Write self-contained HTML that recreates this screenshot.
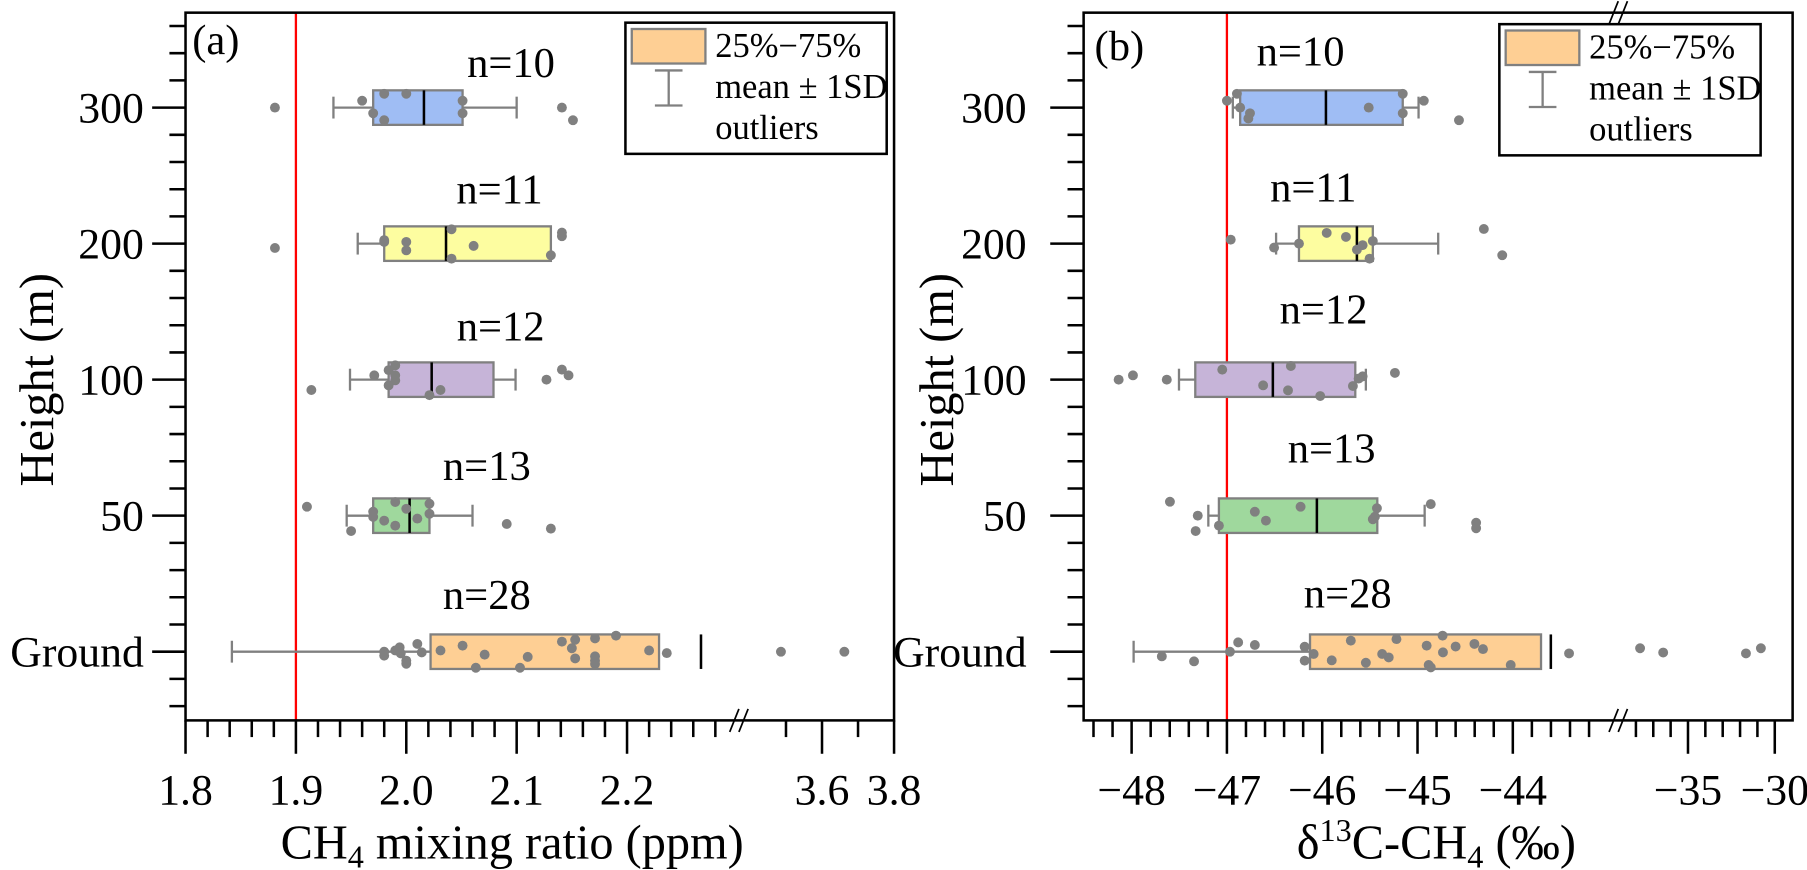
<!DOCTYPE html>
<html><head><meta charset="utf-8"><style>
html,body{margin:0;padding:0;background:#fff}
svg{display:block}
svg text{font-family:"Liberation Serif","Times New Roman","Noto Serif CJK SC","DejaVu Serif",serif;fill:#000}
</style></head><body>
<svg id="fig" xmlns="http://www.w3.org/2000/svg" width="1807" height="870" viewBox="0 0 1570 756" preserveAspectRatio="none">
<g id="pa"></g>
<g id="pb"></g>
</svg>
<script>
// ---------- shared ----------
const categories = ["300","200","100","50","Ground"];
const boxColors = ["#9fbdf4","#fdfda0","#c6b4d8","#9fd89d","#fecf94"];

// ---------- panel a data (CH4 ppm) ----------
const aQ1 = [1.970,1.980,1.984,1.970,2.022];
const aMedian = [2.016,2.036,2.023,2.003,2.267];
const aQ3 = [2.051,2.131,2.079,2.021,2.229];
const aWhiskerLo = [1.934,1.956,1.949,1.946,1.842];
const aWhiskerHi = [2.100,2.116,2.099,2.060,null];
const aN = ["n=10","n=11","n=12","n=13","n=28"];
const aPoints = [
 [1.881,1.960,1.970,1.980,1.980,2.000,2.051,2.051,2.141,2.151],
 [1.881,1.980,2.000,2.000,2.041,2.041,2.061,2.141,2.141,2.131,1.980],
 [1.914,1.971,1.984,1.990,1.990,1.990,1.984,2.021,2.031,2.127,2.141,2.147],
 [1.910,1.950,1.970,1.970,1.980,1.990,1.990,2.000,2.010,2.021,2.021,2.091,2.131],
 [1.980,1.980,1.990,1.994,2.000,2.010,2.014,2.031,2.051,2.071,2.063,2.103,2.141,2.153,2.153,2.171,2.171,2.171,2.171,2.190,2.220,2.236,3.486,3.662,1.995,2.000,2.150,2.110]
];
const aJitter = [
 [0,-0.4,0.33,-0.8,0.73,-0.8,-0.4,0.33,0,0.73],
 [0.25,-0.2,-0.1,0.39,-0.83,0.87,0.13,-0.64,-0.43,0.67,-0.1],
 [0.6,-0.25,-0.55,-0.83,-0.25,0.04,0.33,0.9,0.6,0,-0.58,-0.25,0.33],
 [-0.52,0.89,-0.23,0.07,0.29,-0.79,0.58,-0.4,0.17,-0.69,-0.11,0.48,0.75],
 [0,0.23,-0.07,-0.25,0.52,-0.45,0.04,-0.07,-0.35,0.17,0.93,0.93,-0.58,-0.69,0.39,-0.77,0.27,0.52,0.71,-0.93,-0.07,0.08,0,0,0.1,0.7,-0.2,0.3]
];
const aTickMajor = [1.8,1.9,2.0,2.1,2.2,3.6,3.8];
const aTickLabels = ["1.8","1.9","2.0","2.1","2.2","3.6","3.8"];
const aTickMinor = [1.82,1.84,1.86,1.88,1.92,1.94,1.96,1.98,2.02,2.04,2.06,2.08,2.12,2.14,2.16,2.18,2.22,2.24,2.26,2.28,3.5,3.7];
const aRef = 1.9;

// ---------- panel b data (d13C permil) ----------
const bQ1 = [-46.861,-46.244,-47.332,-47.084,-46.128];
const bMedian = [-45.961,-45.636,-46.518,-46.056,-43.601];
const bQ3 = [-45.155,-45.469,-45.653,-45.422,-43.704];
const bWhiskerLo = [-46.938,-46.484,-47.503,-47.195,-47.979];
const bWhiskerHi = [-44.989,-44.783,-45.542,-44.925,null];
const bN = ["n=10","n=11","n=12","n=13","n=28"];
const bPoints = [
 [-47.0,-46.895,-46.861,-46.758,-46.775,-45.512,-45.155,-45.155,-44.934,-44.565],
 [-46.96,-46.505,-46.244,-45.953,-45.751,-45.636,-45.576,-45.469,-45.503,-44.304,-44.111],
 [-48.136,-47.986,-47.631,-47.049,-46.620,-46.329,-46.359,-46.021,-45.678,-45.618,-45.576,-45.237],
 [-47.598,-47.306,-47.328,-47.084,-46.707,-46.591,-46.227,-45.447,-45.426,-45.469,-44.861,-44.385,-44.385],
 [-47.683,-47.345,-46.968,-46.882,-46.707,-46.184,-46.184,-46.09,-45.70,-45.542,-45.371,-45.302,-45.221,-44.904,-44.883,-44.861,-44.737,-44.733,-44.403,-44.313,-44.022,-43.41,-37.76,-36.43,-31.66,-30.8,-45.9,-44.6]
];
const bJitter = [
 [-0.4,-0.8,0,0.33,0.63,0,-0.8,0.33,-0.4,0.73],
 [-0.23,0.23,0,-0.62,-0.39,0.35,0.09,-0.15,0.87,-0.85,0.67],
 [0,-0.25,0,-0.58,0.33,-0.79,0.62,0.95,0.37,-0.06,-0.19,-0.39],
 [-0.81,0,0.89,0.58,-0.23,0.29,-0.52,0.06,-0.43,0.21,-0.67,0.41,0.73],
 [0.27,0.56,0,-0.54,-0.39,-0.29,0.52,0.13,-0.64,0.64,0.13,0.33,-0.73,-0.35,0.77,0.91,-0.93,0.04,-0.45,-0.15,0.77,0.1,-0.2,0.05,0.1,-0.2,0.5,-0.3]
];
const bTickMajor = [-48,-47,-46,-45,-44,-35,-30];
const bTickLabels = ["\u221248","\u221247","\u221246","\u221245","\u221244","\u221235","\u221230"];
const bTickMinor = [-48.4,-48.2,-47.8,-47.6,-47.4,-47.2,-46.8,-46.6,-46.4,-46.2,-45.8,-45.6,-45.4,-45.2,-44.8,-44.6,-44.4,-44.2,-43.8,-43.6,-43.4,-43.2,-38,-37,-36,-34,-33,-32,-31];
const bRef = -47;

// ---------- helpers ----------
const NS = "http://www.w3.org/2000/svg";
function mk(parent, tag, attrs, txt){
  const e = document.createElementNS(NS, tag);
  for (const k in attrs) e.setAttribute(k, attrs[k]);
  if (txt !== undefined) e.textContent = txt;
  parent.appendChild(e);
  return e;
}
const FT = 11, FB = 626, HALF = 15;
function yCat(i){ return 93.5 + i*118.2; }
function xA(v){ return v <= 2.3 ? 161.2 + (v-1.8)*959 : 714.2 + (v-3.6)*313; }
function xB(v){ return v <= -43.0 ? 1066 + (v+47)*82.8 : 1542 + (v+30)*15.08; }

function drawPanel(g, cfg){
  const L = cfg.left, R = cfg.right, X = cfg.x;
  for (let k=-3;k<=22;k++){
    const y = 93.5 + k*23.64;
    const major = (k%5===0);
    const t = mk(g,'line',{x1:L-(major?29:14),x2:L,y1:y,y2:y,stroke:'#000','stroke-width':2.2});
    
    
  }
  categories.forEach((c,i)=>{
    const t = mk(g,'text',{x:cfg.ylabX,y:yCat(i)+13,'font-size':38,'text-anchor':'end'},c);
    
    
  });
  cfg.minor.forEach(v=>{
    const t = mk(g,'line',{x1:X(v),x2:X(v),y1:FB,y2:FB+14.5,stroke:'#000','stroke-width':2.2});
    
    
  });
  cfg.major.forEach((v,i)=>{
    const t = mk(g,'line',{x1:X(v),x2:X(v),y1:FB,y2:FB+29,stroke:'#000','stroke-width':2.2});
    
    
    const l = mk(g,'text',{x:X(v),y:FB+73,'font-size':38,'text-anchor':'middle'},cfg.labels[i]);
    
    
  });
  const rl = mk(g,'line',{x1:X(cfg.ref),x2:X(cfg.ref),y1:FT,y2:FB,stroke:'#ff0000','stroke-width':2});
  
  
  categories.forEach((c,i)=>{
    const y = yCat(i);
    const grp = mk(g,'g',{});
    
    
    const lo = cfg.wlo[i], hi = cfg.whi[i];
    mk(grp,'line',{x1:X(lo),x2:X(cfg.q1[i]),y1:y,y2:y,stroke:'#808080','stroke-width':2});
    mk(grp,'line',{x1:X(lo),x2:X(lo),y1:y-9.5,y2:y+9.5,stroke:'#808080','stroke-width':2});
    if (hi !== null){
      mk(grp,'line',{x1:X(cfg.q3[i]),x2:X(hi),y1:y,y2:y,stroke:'#808080','stroke-width':2});
      mk(grp,'line',{x1:X(hi),x2:X(hi),y1:y-9.5,y2:y+9.5,stroke:'#808080','stroke-width':2});
    }
    const r = mk(grp,'rect',{x:X(cfg.q1[i]),y:y-HALF,width:X(cfg.q3[i])-X(cfg.q1[i]),height:2*HALF,fill:boxColors[i],stroke:'#808080','stroke-width':2});
    
    
    const m = mk(grp,'line',{x1:X(cfg.med[i]),x2:X(cfg.med[i]),y1:y-HALF,y2:y+HALF,stroke:'#000','stroke-width':2.2});
    
    
    cfg.pts[i].forEach((v,j)=>{
      const p = mk(grp,'circle',{cx:X(v),cy:y+cfg.jit[i][j]*HALF,r:4.3,fill:'#808080'});
      
      
    });
  });
  cfg.nPos.forEach((p,i)=>{
    const t = mk(g,'text',{x:p[0],y:p[1],'font-size':37,'text-anchor':'middle'},cfg.n[i]);
    
    
  });
  const f = mk(g,'rect',{x:L,y:FT,width:R-L,height:FB-FT,fill:'none',stroke:'#000','stroke-width':2.2});
  
  
  cfg.breaks.forEach(b=>{
    const bg = mk(g,'g',{});
    
    
    mk(bg,'line',{x1:b[0]-7,x2:b[0]+1,y1:b[1]+10,y2:b[1]-10,stroke:'#000','stroke-width':1.5});
    mk(bg,'line',{x1:b[0]+1,x2:b[0]+9,y1:b[1]+10,y2:b[1]-10,stroke:'#000','stroke-width':1.5});
  });
  const pl = mk(g,'text',{x:cfg.letter[0],y:cfg.letter[1],'font-size':37},cfg.letter[2]);
  
  
  const lx = cfg.legend[0], ly = cfg.legend[1];
  const lg = mk(g,'g',{});
  
  
  mk(lg,'rect',{x:lx,y:ly,width:227,height:114,fill:'#fff',stroke:'#000','stroke-width':2.2});
  const sw = mk(lg,'rect',{x:lx+5.5,y:ly+5.5,width:64,height:30,fill:'#fecf94',stroke:'#808080','stroke-width':2});
  
  
  const eb = mk(lg,'g',{});
  
  
  mk(eb,'line',{x1:lx+37.6,x2:lx+37.6,y1:ly+41.5,y2:ly+72,stroke:'#808080','stroke-width':2});
  mk(eb,'line',{x1:lx+25.6,x2:lx+49.6,y1:ly+41.5,y2:ly+41.5,stroke:'#808080','stroke-width':2});
  mk(eb,'line',{x1:lx+25.6,x2:lx+49.6,y1:ly+72,y2:ly+72,stroke:'#808080','stroke-width':2});
  ["25%\u221275%","mean \u00b1 1SD","outliers"].forEach((s,i)=>{
    const t = mk(lg,'text',{x:lx+78,y:ly+30+i*35.5,'font-size':30},s);
    
    
  });
}

const ga = document.getElementById('pa');
drawPanel(ga,{left:161.2,right:776.8,x:xA,ylabX:125,
  minor:aTickMinor,major:aTickMajor,labels:aTickLabels,ref:aRef,
  q1:aQ1,med:aMedian,q3:aQ3,wlo:aWhiskerLo,whi:aWhiskerHi,pts:aPoints,jit:aJitter,n:aN,
  nPos:[[444,67],[434,177],[435,296],[423,417],[423,529]],
  breaks:[[641,FB]],letter:[167,47,"(a)"],legend:[543.4,19.7]});

const gb = document.getElementById('pb');
drawPanel(gb,{left:941.5,right:1557.5,x:xB,ylabX:892,
  minor:bTickMinor,major:bTickMajor,labels:bTickLabels,ref:bRef,
  q1:bQ1,med:bMedian,q3:bQ3,wlo:bWhiskerLo,whi:bWhiskerHi,pts:bPoints,jit:bJitter,n:bN,
  nPos:[[1130,57],[1141,175],[1150,281],[1157,402],[1171,528]],
  breaks:[[1405,FB],[1405,FT]],letter:[951,52,"(b)"],legend:[1302.7,21]});

const fig = document.getElementById('fig');
function title(x,y,html,name,rot){
  const t = mk(fig,'text',{x:x,y:y,'font-size':42,'text-anchor':'middle'});
  if (rot) t.setAttribute('transform','rotate(-90 '+x+' '+y+')');
  t.innerHTML = html;
  
  
}
title(445,746,'CH<tspan font-size="28" dy="8">4</tspan><tspan dy="-8"> mixing ratio (ppm)</tspan>','x-axis-title-a',false);
title(1248,746,'δ<tspan font-size="28" dy="-15">13</tspan><tspan dy="15">C-CH</tspan><tspan font-size="28" dy="8">4</tspan><tspan dy="-8"> (‰)</tspan>','x-axis-title-b',false);
title(46,330,'Height (m)','y-axis-title-a',true);
title(828,330,'Height (m)','y-axis-title-b',true);
</script>
</body></html>
